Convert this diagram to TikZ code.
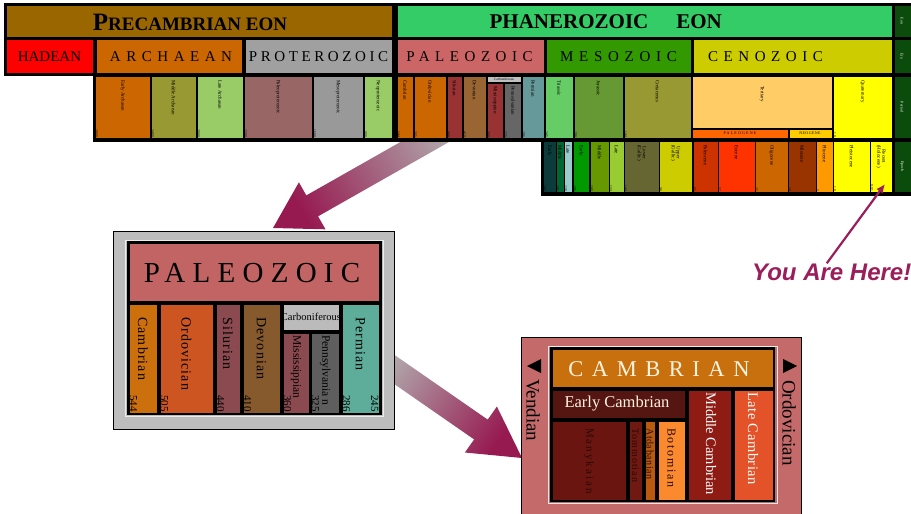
\documentclass[tikz,border=0pt]{standalone}
\usepackage{fontspec}
\setmainfont{Liberation Serif}
\newfontfamily\herefont{Liberation Sans}
\usepackage{tikz}
\usetikzlibrary{arrows.meta, calc}
\usepackage{xcolor}
\definecolor{precamcolor}{HTML}{996600}
\definecolor{phanerocolor}{HTML}{33CC66}
\definecolor{stripcolor}{HTML}{0B4B0B}
\definecolor{arrowmaroon}{RGB}{150, 25, 80}
\definecolor{heremaroon}{RGB}{155, 30, 90}
\definecolor{insetgray}{HTML}{BDBDBD}
\definecolor{camframe}{HTML}{C46A6A}
\definecolor{cream}{HTML}{FFF4E0}
\definecolor{titleblue}{RGB}{40, 70, 190}
\newcommand{\fsz}[1]{\fontsize{#1}{#1}\selectfont}
\newcommand{\boxcolor}[1]{\edef\tmpdef{\noexpand\definecolor{boxfill}{HTML}{#1}}\tmpdef}

\tikzset{
  box/.style={draw=black, line width=0.8pt},
  eralab/.style={inner sep=0pt},
  tinylab/.style={rotate=-90, anchor=west, font=\fsz{5}, inner sep=0pt, align=center},
  tinyage/.style={rotate=-90, anchor=south east, font=\fsz{3.5}, inner sep=0pt},
  stripnote/.style={rotate=-90, font=\fsz{4}, text=white, inner sep=0pt},
  perlab/.style={rotate=-90, anchor=west, inner sep=0pt, font=\fsz{14}\addfontfeature{LetterSpace=8}},
  agelab/.style={rotate=-90, anchor=south east, inner sep=0pt, font=\fsz{11}},
  camlab/.style={rotate=-90, anchor=west, inner sep=0pt},
}

\begin{document}
\begin{tikzpicture}[x=1pt, y=-1pt, >=Stealth]
  \useasboundingbox (0,0) rectangle (911,514);

  % Cut-off title
  \node[font=\herefont\bfseries\fsz{30}, text=titleblue, anchor=base] (title) at (508,-6) {gy};

  % Big arrows (drawn first, they run under the charts)
  \shade[top color=gray!60, middle color=arrowmaroon, bottom color=arrowmaroon, shading angle=-60]
    (273,228) -- (325.5,229.3) -- (318.1,216.3) -- (479.2,124.9) -- (467.4,104.0)
    -- (306.3,195.4) -- (298.9,182.3) -- cycle;
  \shade[top color=gray!60, middle color=arrowmaroon, bottom color=arrowmaroon, shading angle=55]
    (522,458) -- (496.9,406.5) -- (487.7,419.6) -- (372.6,339.8) -- (359.0,359.6)
    -- (474.1,439.4) -- (464.9,452.5) -- cycle;

  % Top chart: black backing
  \fill[black] (4,3) rectangle (911,40);
  \fill[black] (4,37) rectangle (911,76);
  \fill[black] (93,73) rectangle (911,142);
  \fill[black] (541,138) rectangle (911,196);

  % Eons
  \filldraw[box, fill=precamcolor] (6,5) rectangle (392,37);
  \filldraw[box, fill=phanerocolor] (397,5) rectangle (892,37);
  \node[font=\bfseries, inner sep=0pt] (precam) at (190,22) {{\fsz{25}P}{\fsz{19}RECAMBRIAN EON}};
  \node[font=\fsz{21}\bfseries, inner sep=0pt] (phaner) at (569,22) {PHANEROZOIC};
  \node[font=\fsz{21}\bfseries, inner sep=0pt] (phaneon) at (699,22) {EON};

  % Eras
  \foreach \xa/\xb/\hex/\lab/\ls/\dx [count=\i] in {6/93/FF0000/HADEAN/0/0, 96/242/CC6600/ARCHAEAN/37/2,
      245/392/A0A0A0/PROTEROZOIC/24/0, 397/544/CC6666/PALEOZOIC/37/-1, 546/691/339900/MESOZOIC/38/0,
      693/892/CCCC00/CENOZOIC/37/-27}
  {
    \boxcolor{\hex}
    \filldraw[box, fill=boxfill] (\xa,39) rectangle (\xb,73);
    \node[eralab, font=\fsz{15}\addfontfeature{LetterSpace=\ls}] (era\i) at ({(\xa+\xb)/2+\dx},57) {\lab};
  }

  % Precambrian subdivisions
  \foreach \xa/\xb/\hex/\lab/\age [count=\i] in {95/150/CC6600/Early Archaean/3800,
      151/196/999933/Middle Archaean/3400, 197/243/99CC66/Late Archaean/3000,
      244/312/996666/Paleoproterozoic/2500, 313/363/999999/Mesoproterozoic/1600,
      364/392/99CC66/Neoproterozoic/900}
  {
    \boxcolor{\hex}
    \filldraw[box, fill=boxfill] (\xa,76) rectangle (\xb,138);
    \node[tinylab] (pc\i) at ({(\xa+\xb)/2},80) {\lab};
    \node[tinyage] (pcage\i) at (\xa+0.5,137) {\age};
  }

  % Periods
  \foreach \xa/\xb/\hex/\lab/\age [count=\i] in {397/413/CC6600/Cambrian/544,
      414/446/CC6600/Ordovician/505, 447/462/993333/Silurian/440, 463/486/996633/Devonian/410,
      522/544/669999/Permian/286, 545/573/66CC66/Triassic/245, 574/623/669933/Jurassic/208,
      624/691/999933/Cretaceous/144, 833/892/FFFF00/Quaternary/1.8}
  {
    \boxcolor{\hex}
    \filldraw[box, fill=boxfill] (\xa,76) rectangle (\xb,138);
    \node[tinylab] (per\i) at ({(\xa+\xb)/2},80) {\lab};
    \node[tinyage] (perage\i) at (\xa+0.5,137) {\age};
  }
  \filldraw[box, fill={rgb,255:red,192;green,192;blue,192}] (487,76) rectangle (521,82);
  \node[font=\fsz{3.5}, inner sep=0pt] (carbon) at (504,79) {Carboniferous};
  \filldraw[box, fill={rgb,255:red,153;green,51;blue,51}] (487,83) rectangle (503,138);
  \filldraw[box, fill={rgb,255:red,102;green,102;blue,102}] (504,83) rectangle (521,138);
  \node[tinylab] (missi) at (495,86) {Mississippian};
  \node[tinylab] (penn) at (512.5,86) {Pennsylvanian};
  \node[tinyage] (missiage) at (487.5,137) {360};
  \node[tinyage] (pennage) at (504.5,137) {325};
  \filldraw[box, fill={rgb,255:red,255;green,204;blue,102}] (692,76) rectangle (832,128);
  \node[tinylab] (tert) at (762,86) {Tertiary};
  \filldraw[box, fill={rgb,255:red,255;green,102;blue,0}] (692,129) rectangle (788,138);
  \filldraw[box, fill={rgb,255:red,255;green,204;blue,0}] (789,129) rectangle (832,138);
  \node[font=\fsz{4}\addfontfeature{LetterSpace=30}, inner sep=0pt] (paleog) at (740,133.5) {PALEOGENE};
  \node[font=\fsz{4}\addfontfeature{LetterSpace=10}, inner sep=0pt] (neog) at (810,133.5) {NEOGENE};

  % Epochs
  \foreach \xa/\xb/\hex/\lab/\age [count=\i] in {543/556/0B3B3B/Early/245, 556/564/006633/Middle/241,
      564/572/99CCCC/Late/230, 573/589/009900/Early/208, 590/609/669900/Middle/180,
      609/624/99CC33/Late/159, 624/659/666633/{Lower\\(Gallic)}/144, 659/692/CCCC00/{Upper\\(Gallic)}/98,
      693/718/CC3300/Paleocene/65, 718/755/FF3300/Eocene/57, 755/788/CC6600/Oligocene/35,
      788/816/993300/Miocene/24, 816/833/FF9900/Pliocene/5, 833/870/FFFF00/Pleistocene/1.8,
      870/892/FFFF00/{Recent\\(Holocene)}/0.01}
  {
    \boxcolor{\hex}
    \filldraw[box, fill=boxfill] (\xa,141) rectangle (\xb,192);
    \node[tinylab] (ep\i) at ({(\xa+\xb)/2},145) {\lab};
    \node[tinyage] (epage\i) at (\xa+0.5,191) {\age};
  }

  % Right-hand key strip
  \foreach \ya/\yb/\lab [count=\i] in {5/37/Eon, 39/73/Era, 76/138/Period, 141/192/Epoch}
  {
    \filldraw[box, fill=stripcolor] (894,\ya) rectangle (912,\yb);
    \node[stripnote] (key\i) at (902,{(\ya+\yb)/2}) {\lab};
  }

  % Paleozoic inset
  \filldraw[fill=insetgray, draw=black, line width=1pt] (113,231) rectangle (394,429);
  \draw[white!85!gray, line width=1pt] (125,240) rectangle (383,416);
  \fill[black] (126.5,241) rectangle (381.5,415);
  \filldraw[box, fill={rgb,255:red,194;green,100;blue,100}] (129,243) rectangle (379,301);
  \node[font=\fsz{29}\addfontfeature{LetterSpace=25}, inner sep=0pt] (paltitle) at (252,273) {PALEOZOIC};
  \foreach \xa/\xb/\hex/\lab/\age [count=\i] in {129/157/CC700E/Cambrian/544,
      160/213/CC5522/Ordovician/505, 216/240/8A4A50/Silurian/440, 243/280/875A2E/Devonian/410,
      342/379/5EAD9A/Permian/286}
  {
    \boxcolor{\hex}
    \filldraw[box, fill=boxfill] (\xa,304) rectangle (\xb,413);
    \node[perlab] (pal\i) at ({(\xa+\xb)/2},317) {\lab};
    \node[agelab] (palage\i) at (\xa+0.5,412) {\age};
  }
  \filldraw[box, fill={rgb,255:red,187;green,187;blue,187}] (283,304) rectangle (339,330);
  \node[font=\fsz{10.5}, inner sep=0pt] (palcarb) at (311,317) {Carboniferous};
  \filldraw[box, fill={rgb,255:red,138;green,74;blue,80}] (283,333) rectangle (309,413);
  \filldraw[box, fill={rgb,255:red,94;green,94;blue,94}] (311,333) rectangle (339,413);
  \node[camlab, font=\fsz{11.5}] (palmiss) at (296,335) {Mississippian};
  \node[camlab, font=\fsz{11.5}] (palpenn) at (325,335) {Pennsylvania n};
  \node[agelab] (palmissage) at (283.5,412) {360};
  \node[agelab] (palpennage) at (311.5,412) {325};
  \node[agelab, anchor=north east] (palend) at (378.5,412) {245};

  % Cambrian inset
  \filldraw[fill=camframe, draw=black, line width=1pt] (521,337) rectangle (801,520);
  \draw[white!85!gray, line width=1pt] (548,346) rectangle (777,503);
  \fill[black] (550,347) rectangle (775,502);
  \filldraw[box, fill={rgb,255:red,200;green,112;blue,14}] (552,349) rectangle (773,387);
  \node[font=\fsz{22.5}\addfontfeature{LetterSpace=38}, text=cream, inner sep=0pt] (camtitle) at (659,369) {CAMBRIAN};
  \filldraw[box, fill={rgb,255:red,85;green,21;blue,16}] (552,390) rectangle (685,418);
  \node[font=\fsz{16.5}, text=cream, inner sep=0pt] (early) at (617,404) {Early Cambrian};
  \filldraw[box, fill={rgb,255:red,142;green,28;blue,20}] (688,390) rectangle (731,500);
  \node[camlab, font=\fsz{14.5}, text=white] (middle) at (711,392) {Middle Cambrian};
  \filldraw[box, fill={rgb,255:red,227;green,82;blue,40}] (734,390) rectangle (773,500);
  \node[camlab, font=\fsz{14.5}\addfontfeature{LetterSpace=4}, text=white] (late) at (753,392) {Late Cambrian};
  \foreach \xa/\xb/\hex/\lab/\fs/\ls [count=\i] in {552/626/6B1510/Manykaian/11/18,
      629/642/701812/Tommotian/10/10, 645/655/B95A0E/Atdabanian/10/6, 658/685/FB8A2F/Botomian/12/14}
  {
    \boxcolor{\hex}
    \filldraw[box, fill=boxfill] (\xa,421) rectangle (\xb,500);
    \node[camlab, font=\fsz{\fs}\addfontfeature{LetterSpace=\ls}, text={rgb,255:red,40;green,10;blue,8}]
      (stage\i) at ({(\xa+\xb)/2},428) {\lab};
  }
  \fill[black] (527,366) -- (541,359) -- (541,373) -- cycle;
  \node[camlab, font=\fsz{19}] (vendian) at (533,379) {Vendian};
  \fill[black] (797,366) -- (783,359) -- (783,373) -- cycle;
  \node[camlab, font=\fsz{19}] (ordov) at (789,380) {Ordovician};

  % You are here
  \node[font=\herefont\bfseries\itshape\fsz{24}, text=heremaroon, inner sep=0pt, anchor=base west] (here) at (752,280) {You Are Here!};
  \coordinate (herepoint) at (885,184);
  \draw[heremaroon, line width=2.2pt, -{Latex[length=9pt, width=8pt]}] ([xshift=-5pt]here.north) -- (herepoint);

\end{tikzpicture}
\end{document}
